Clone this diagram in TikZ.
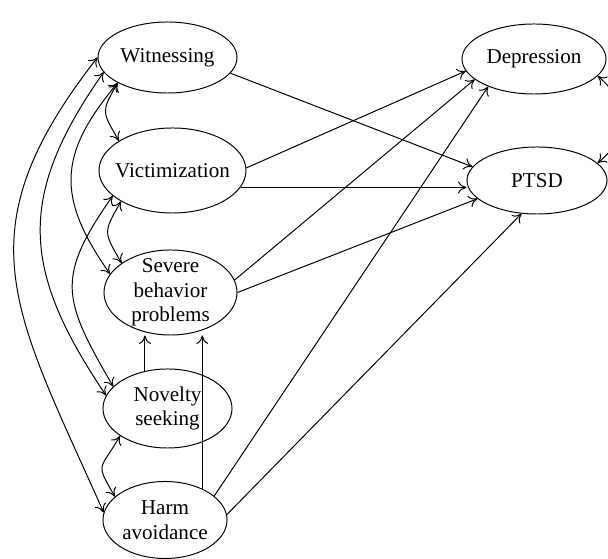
\documentclass[tikz,border=0pt]{standalone}
\usepackage{fontspec}
\setmainfont{Liberation Serif}
\usetikzlibrary{shapes.geometric,arrows.meta}

\begin{document}
\begin{tikzpicture}[
    x=0.025cm, y=0.025cm,
    >={To[length=6pt,width=8.5pt]},
    every node/.style={draw, ellipse, align=center, inner sep=-6pt, line width=0.7pt,
      font=\fontsize{15}{17.5}\selectfont},
    effect/.style={draw, line width=0.7pt, ->},
    corr/.style={draw, line width=0.7pt, <->}
  ]
\useasboundingbox (0,0) rectangle (608,559);

% Predictors (left column)
\node (wit) [minimum width=3.475cm, minimum height=1.775cm] at (167.5,501.5) {Witnessing};
\node (vict) [minimum width=3.675cm, minimum height=2.125cm] at (172.5,388.5) {Victimization};
\node (sev) [minimum width=3.325cm, minimum height=2.125cm] at (170.5,266.5) {Severe\\behavior\\problems};
\node (nov) [minimum width=3.225cm, minimum height=1.975cm] at (167.5,150.5) {Novelty\\seeking};
\node (harm) [minimum width=3.1cm, minimum height=1.925cm] at (165,39) {Harm\\avoidance};

% Outcomes (right column)
\node (dep) [minimum width=3.6cm, minimum height=1.75cm] at (534,500) {Depression};
\node (ptsd) [minimum width=3.5cm, minimum height=1.675cm] at (537,378.5) {PTSD};

% Paths to outcomes
\draw[effect] (wit.-14) -- (ptsd.168);
\draw[effect] (vict.2) -- (dep.190);
\draw[effect] (vict.-14) -- (vict.-14 -| ptsd.west);
\draw[effect] (sev.11) -- (dep.199);
\draw[effect] (sev.0) -- (ptsd.197);
\draw[effect] (harm.26) -- (dep.211);
\draw[effect] (harm.5) -- (ptsd.245);

% Paths to behavior problems
\draw[effect] (nov.121) -- (nov.121 |- sev.south);
\draw[effect] (harm.40) -- (harm.40 |- sev.south);

% Correlations
\draw[corr] (wit.180) to[out=232, in=114, looseness=1.25] (harm.173);
\draw[corr] (wit.193) to[out=235, in=124, looseness=1.2] (nov.168);
\draw[corr] (wit.207) to[out=230, in=125, looseness=1.25] (sev.163);
\draw[corr] (wit.207) to[out=240, in=120, looseness=1.5] (vict.151);
\draw[corr] (vict.203) to[out=235, in=120, looseness=1.35] (nov.158);
\draw[corr] (vict.211) to[out=240, in=120, looseness=1.5] (sev.149);
\draw[corr] (nov.210) to[out=240, in=120, looseness=1.7] (harm.155);
\draw[corr] (dep.-15) to[out=-40, in=40, looseness=1.3] (ptsd.16);

\end{tikzpicture}
\end{document}
